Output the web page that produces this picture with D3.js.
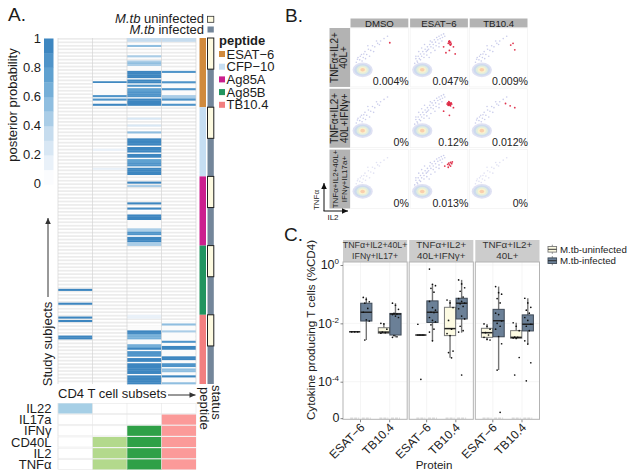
<!DOCTYPE html>
<html><head><meta charset="utf-8">
<script src="https://cdn.jsdelivr.net/npm/d3@7"></script>
<style>html,body{margin:0;padding:0;background:#fff}svg{display:block}text{font-family:"Liberation Sans",Arial,sans-serif;fill:#1c1c1c}</style>
</head><body><svg id="c" width="632" height="476"><defs><filter id="soft" x="-20%" y="-20%" width="140%" height="140%"><feGaussianBlur stdDeviation="0.6"/></filter></defs></svg>
<script>
// ---------- Panel A data ----------
const subsets=["s1","s2","s3","s4"];
const subjectCount=100;
const peptides=["ESAT−6","CFP−10","Ag85A","Ag85B","TB10.4"];
const peptideColors=["#d08a3c","#c6def2","#cb1f8e","#21945f","#f27f80"];
const statusNames=["M.tb uninfected","M.tb infected"];
const statusColors=["#fdfae0","#73869a"];
const uninfectedPerPeptide=9, subjectsPerPeptide=20;
const probLevels=["#fbfcfe","#e9f1f9","#d8e7f4","#c6dcee","#aacde7","#8fbee0","#75afd8","#5fa1d0","#4f94c9","#3d86c0"];
const probTicks=[0,0.2,0.4,0.6,0.8,1];
// half-rows of the heatmap that carry a probability, and its value
const s1Rows=[145,153,161,163,172,173];
const s1Probs=[.9,.9,.9,.9,.95,.95];
const s2Rows=[25,26,27,28,33,35,38,64,75];
const s2Probs=[.9,.08,.08,.08,.85,.85,.9,.12,.12];
const s3Rows=[0,1,4,10,13,14,15,19,20,21,22,24,25,27,29,30,31,32,33,35,36,37,38,46,50,54,58,59,60,61,63,64,65,67,68,70,71,72,73,75,76,77,78,83,85,95,98,102,103,104,110,111,112,113,114,115,116,117,118,119,160,161,169,170,171,172,173,177,178,179,181,182,183,185,186,188,189,190,191,192,193,195,196,197,198,199];
const s3Probs=[.3,.3,.5,.45,.45,.5,.45,.95,.95,.95,.95,.9,.9,.8,.75,.75,.8,.8,.8,.95,.95,.95,.95,.25,.2,.5,.95,.95,.95,.95,.9,.9,.9,.95,.95,.7,.7,.85,.85,.95,.95,.95,.95,.9,.45,.9,.9,.9,.9,.9,.45,.45,.85,.85,.15,.9,.9,.9,.45,.45,.1,.1,.9,.9,.65,.65,.65,.6,.6,.9,.85,.85,.85,.95,.95,.95,.95,.95,.95,.95,.95,.95,.95,.95,.95,.95];
const s4Rows=[0,1,19,25,29,33,34,35,38,165,169,175,178,179,184,185,188,189,191,192,195,199];
const s4Probs=[.3,.3,.85,.85,.85,.4,.4,.85,.85,.5,.45,.8,.95,.95,.9,.9,.85,.85,.5,.5,.9,.5];
// half-row ranges where a subset was scored as zero (white, not the grey stripe)
const s2ZeroRanges=[[24,40]];
const s3ZeroRanges=[[16,40],[56,80],[100,120],[166,200]];
const s4ZeroRanges=[[18,40],[164,200]];
const markers=["IL22","IL17a","IFNγ","CD40L","IL2","TNFα"];
const subsetColors=["#a6cfe6","#b3d98c","#2fa047","#fb9a99"];
const markerS1=[1,0,0,0,0,0], markerS2=[0,0,0,1,1,1], markerS3=[0,0,1,1,1,1], markerS4=[0,1,1,1,1,1];

// ---------- Panel B data ----------
const stims=["DMSO","ESAT−6","TB10.4"];
const gates=[["TNFα+IL2+","40L+"],["TNFα+IL2+","40L+IFNγ+"],["TNFα+IL2+40L+","IFNγ+IL17a+"]];
const gateFont=[10,10,8];
const percents=[["0.004%","0.047%","0.009%"],["0%","0.12%","0.012%"],["0%","0.013%","0%"]];
const ringRx=[.175,.145,.105,.07,.04];
const ringRy=[.125,.1,.075,.05,.03];
const ringColors=["#dfe1f3","#cddbee","#e2eede","#fbf2cf","#f9cfae"];
const sparseCloudX=[.1,.13,.16,.19,.22,.25,.28,.31,.35,.38,.42,.47,.52,.58,.64,.2,.26,.33,.4,.12,.17,.23,.3,.45,.5];
const sparseCloudY=[.42,.5,.46,.55,.5,.6,.55,.64,.62,.7,.68,.74,.78,.82,.86,.44,.48,.52,.6,.47,.52,.56,.7,.78,.72];
const denseCloudX=[.08,.1,.12,.14,.16,.18,.2,.22,.24,.26,.28,.3,.32,.34,.36,.38,.4,.42,.44,.46,.48,.5,.52,.54,.56,.58,.6,.1,.15,.2,.25,.3,.35,.4,.45,.5,.13,.18,.24,.29,.36,.43,.5,.55,.33];
const denseCloudY=[.4,.48,.44,.52,.48,.56,.52,.6,.56,.64,.6,.68,.64,.72,.68,.76,.72,.8,.76,.84,.8,.86,.82,.88,.84,.9,.86,.52,.6,.66,.72,.62,.78,.66,.7,.74,.42,.46,.5,.54,.58,.62,.68,.78,.5];
const redX=[[[.68],[.66,.67,.68,.69,.7,.71,.68,.7,.58,.75,.62,.78,.68],[.75,.78,.71]],
 [[],[.64,.65,.66,.67,.68,.69,.7,.71,.72,.67,.69,.66,.68,.7,.58,.68,.75],[.62,.7,.78]],
 [[],[.6,.65,.68,.7,.72,.73,.66,.7,.67],[]]];
const redY=[[[.75],[.74,.77,.75,.72,.76,.73,.78,.71,.68,.68,.58,.56,.62],[.74,.63,.71]],
 [[],[.74,.76,.72,.75,.77,.73,.75,.76,.74,.78,.72,.73,.74,.71,.62,.55,.68],[.75,.71,.68]],
 [[],[.72,.75,.74,.78,.76,.79,.7,.72,.77],[]]];

// ---------- Panel C data (log10 of %CD4; zeros drawn on the bottom row) ----------
const facetA=["TNFα+IL2+40L+","TNFα+IL2+","TNFα+IL2+"];
const facetB=["IFNγ+IL17+","40L+IFNγ+","40L+"];
const facetFont=[8.8,9.8,9.8];
const proteins=["ESAT−6","TB10.4"];
const cStatus=["M.tb-uninfected","M.tb-infected"];
const cFills=["#fdfbe3","#6b8097"];
const cStrokes=["#7a7a7a","#3f4a57"];
const boxFacet=[0,0,0,0,1,1,1,1,2,2,2,2];
const boxProtein=[0,0,1,1,0,0,1,1,0,0,1,1];
const boxStatus=[0,1,0,1,0,1,0,1,0,1,0,1];
const wLow=[-2.29,-2.57,-2.34,-2.48,-2.4,-2.61,-3.18,-2.32,-2.57,-3.6,-2.53,-2.71];
const q1=[-2.29,-1.92,-2.34,-2.4,-2.4,-1.97,-2.42,-1.85,-2.48,-2.46,-2.51,-2.26];
const med=[-2.29,-1.62,-2.3,-1.68,-2.4,-1.62,-2.18,-1.31,-2.32,-1.91,-2.48,-2.03];
const q3=[-2.29,-1.31,-2.15,-1.66,-2.4,-1.23,-1.45,-1.14,-2.17,-1.52,-2.25,-1.71];
const wHigh=[-2.29,-1.11,-2,-1.31,-2.4,-.66,-1.2,-.51,-2.02,-.74,-1.98,-1.14];
const boxPoints=[
 [-2.29,-2.29,-2.29],
 [-1.11,-1.18,-1.26,-1.31,-1.49,-1.62,-1.88,-1.92,-2.57],
 [-2,-2.02,-2.2,-2.3,-2.32,-2.34],
 [-1.31,-1.38,-1.52,-1.66,-1.68,-1.7,-1.75,-1.8,-2.42,-2.46,-2.48],
 [-2.03,-2.4,-2.4,-2.4,-2.4,-2.4,-3.92],
 [-.14,-.66,-.71,-.8,-.93,-1.25,-1.46,-1.55,-1.62,-1.63,-1.8,-1.9,-1.95,-2.05,-2.2,-2.3,-2.6],
 [-1.2,-1.3,-1.46,-1.9,-2.2,-2.35,-2.42,-2.95,-3,-3.18],
 [-.51,-.65,-.78,-.9,-1.1,-1.15,-1.25,-1.31,-1.33,-1.42,-1.5,-1.75,-1.85,-2.1,-2.25,-2.3,-3.77],
 [-2.02,-2.1,-2.2,-2.32,-2.4,-2.48,-2.55,-2.57],
 [-.74,-.95,-1,-1.15,-1.3,-1.65,-1.7,-1.92,-2,-2.1,-2.2,-2.45,-2.7,-3.6,-5.05],
 [-1.98,-2.1,-2.25,-2.47,-2.48,-2.5,-2.52,-3.17,-3.77],
 [-1.14,-1.3,-1.45,-1.55,-1.65,-1.8,-1.9,-2.03,-2.1,-2.25,-2.6,-2.71,-3.35,-3.97]];
const zeroLevel=-5.25;
const yTicksLog=[0,-2,-4];

// ================= drawing =================
const svg=d3.select("#c");
function txt(g,x,y,s,size,anchor,rot,extra){
  const t=g.append("text").attr("x",x).attr("y",y).attr("font-size",size).attr("text-anchor",anchor||"start").text(s);
  if(rot!==undefined&&rot!==""&&rot!==0)t.attr("transform",`rotate(${rot} ${x} ${y})`);
  if(extra)t.style("fill",extra);
  return t;
}
function arrow(g,x1,y1,x2,y2,col){
  g.append("line").attr("x1",x1).attr("y1",y1).attr("x2",x2).attr("y2",y2).attr("stroke",col).attr("stroke-width",1);
  const a=Math.atan2(y2-y1,x2-x1),L=6,W=2.8;
  const px=x2-L*Math.cos(a),py=y2-L*Math.sin(a);
  g.append("path").attr("fill",col).attr("d",`M${x2},${y2}L${px-W*Math.sin(a)},${py+W*Math.cos(a)}L${px+W*Math.sin(a)},${py-W*Math.cos(a)}Z`);
}
// ---- Panel A ----
const A=svg.append("g");
txt(A,8,21,"A.",19);
const heatX=d3.scaleBand().domain(subsets).range([58,196]);
const halfY=d3.scaleBand().domain(d3.range(subjectCount*2)).range([38,384]);
const subjY=d3.scaleBand().domain(d3.range(subjectCount)).range([38,384]);
const probColor=d3.scaleQuantize().domain([0,1]).range(probLevels);
A.selectAll("rect.stripe").data(d3.range(subjectCount)).join("rect")
 .attr("x",58).attr("width",138).attr("y",d=>halfY(d*2)).attr("height",halfY.bandwidth()).attr("fill","#ececec");
const zeroSets=[[],s2ZeroRanges,s3ZeroRanges,s4ZeroRanges];
subsets.forEach((s,i)=>zeroSets[i].forEach(r=>{
 A.append("rect").attr("x",heatX(s)+.5).attr("width",heatX.bandwidth()-1).attr("y",halfY(r[0]))
  .attr("height",halfY.step()*(r[1]-r[0])).attr("fill","#fbfbfb");
}));
[[s1Rows,s1Probs],[s2Rows,s2Probs],[s3Rows,s3Probs],[s4Rows,s4Probs]].forEach((pair,i)=>{
 A.selectAll(null).data(pair[0]).join("rect").attr("x",heatX(subsets[i])).attr("width",heatX.bandwidth())
  .attr("y",d=>halfY(d)).attr("height",halfY.bandwidth()+.35).attr("fill",(d,j)=>probColor(pair[1][j]));
});
subsets.concat(["end"]).forEach((s,i)=>{
 const x=i<4?heatX(s):196;
 A.append("line").attr("x1",x).attr("x2",x).attr("y1",38).attr("y2",384).attr("stroke","#d6d6d6").attr("stroke-width",.7);
});
// side bars
A.selectAll(null).data(peptides).join("rect").attr("x",199.5).attr("width",6.5)
 .attr("y",(d,i)=>subjY(i*subjectsPerPeptide)).attr("height",subjY.step()*subjectsPerPeptide).attr("fill",(d,i)=>peptideColors[i]);
A.append("rect").attr("x",207.5).attr("width",6.3).attr("y",38).attr("height",346).attr("fill",statusColors[1]);
A.selectAll(null).data(peptides).join("rect").attr("x",207.5).attr("width",6.3)
 .attr("y",(d,i)=>subjY(i*subjectsPerPeptide)).attr("height",subjY.step()*uninfectedPerPeptide)
 .attr("fill",statusColors[0]).attr("stroke","#222").attr("stroke-width",1);
// status legend
[0,1].forEach(i=>{
 const y=i?33.5:23.3;
 const t=A.append("text").attr("x",204).attr("y",y).attr("font-size",13).attr("text-anchor","end");
 t.append("tspan").attr("font-style","italic").text("M.tb");
 t.append("tspan").text(i?" infected":" uninfected");
 A.append("rect").attr("x",207.5).attr("y",y-7).attr("width",6.3).attr("height",6).attr("fill",statusColors[i])
  .attr("stroke",i?"none":"#333").attr("stroke-width",.8);
});
// peptide legend
txt(A,219,44.5,"peptide",13).attr("font-weight","bold");
peptides.forEach((p,i)=>{
 const yc=54+i*12.7;
 A.append("rect").attr("x",219).attr("y",yc-3).attr("width",6).attr("height",6).attr("fill",peptideColors[i]);
 txt(A,226.5,yc+4.6,p,13);
});
// probability legend
const probBand=d3.scaleBand().domain(d3.range(10)).range([184.5,38.5]);
A.selectAll(null).data(probLevels).join("rect").attr("x",44).attr("width",9.5)
 .attr("y",(d,i)=>probBand(i)).attr("height",probBand.bandwidth()+.2).attr("fill",d=>d);
const probY=d3.scaleLinear().domain([0,1]).range([183,38]);
probTicks.forEach(v=>txt(A,41,probY(v)+4.6,String(v),13,"end"));
txt(A,17,105,"posterior probability",13,"middle",-90);
// annotations
txt(A,52,344,"Study subjects",13,"middle",-90);
arrow(A,48,297,48,218,"#333");
txt(A,58,398,"CD4 T cell subsets",13);
arrow(A,168,395,195.5,395,"#333");
txt(A,200,387,"peptide",13,"start",90);
txt(A,212,385,"status",13,"start",90);
// marker grid
const markY=d3.scaleBand().domain(markers).range([402.8,470]).paddingInner(.1).paddingOuter(.05);
const markerCols=[markerS1,markerS2,markerS3,markerS4];
markers.forEach((m,r)=>{
 txt(A,51.5,markY(m)+markY.bandwidth()/2+4.6,m,13,"end");
 A.append("rect").attr("x",58).attr("width",138).attr("y",markY(m)).attr("height",markY.bandwidth()).attr("fill","#fff").attr("stroke","#e6e6e6").attr("stroke-width",.6);
 subsets.forEach((s,c)=>{
  if(markerCols[c][r])A.append("rect").attr("x",heatX(s)).attr("width",heatX.bandwidth()).attr("y",markY(m)).attr("height",markY.bandwidth()).attr("fill",subsetColors[c]);
 });
});
subsets.forEach(s=>A.append("line").attr("x1",heatX(s)).attr("x2",heatX(s)).attr("y1",403).attr("y2",469).attr("stroke","#e6e6e6").attr("stroke-width",.6));

// ---- Panel B ----
const B=svg.append("g");
txt(B,285,22,"B.",19);
const colX=d3.scaleBand().domain(stims).range([350.5,527.5]).paddingInner(.03);
const rowY=d3.scaleBand().domain(d3.range(3)).range([28,208.5]).paddingInner(.03);
stims.forEach(s=>{
 B.append("rect").attr("x",colX(s)).attr("y",18.5).attr("width",colX.bandwidth()).attr("height",9).attr("fill","#b3b3b3");
 txt(B,colX(s)+colX.bandwidth()/2,26.6,s,9.6,"middle");
});
gates.forEach((g,r)=>{
 const cy=rowY(r)+rowY.bandwidth()/2;
 B.append("rect").attr("x",329.5).attr("y",rowY(r)).attr("width",20.5).attr("height",rowY.bandwidth()).attr("fill","#b3b3b3");
 txt(B,338,cy,g[0],gateFont[r],"middle",-90);
 txt(B,347.5,cy,g[1],gateFont[r],"middle",-90);
 stims.forEach((s,c)=>{
  const fx=d3.scaleLinear().domain([0,1]).range([colX(s),colX(s)+colX.bandwidth()]);
  const fy=d3.scaleLinear().domain([0,1]).range([rowY(r)+rowY.bandwidth(),rowY(r)]);
  B.append("rect").attr("x",colX(s)).attr("y",rowY(r)).attr("width",colX.bandwidth()).attr("height",rowY.bandwidth()).attr("fill","#fff").attr("stroke","#eeeeee").attr("stroke-width",.6);
  const soft=B.append("g").attr("filter","url(#soft)");
  const dense=c===1, cx=dense?denseCloudX:sparseCloudX, cy2=dense?denseCloudY:sparseCloudY;
  soft.selectAll(null).data(cx).join("circle").attr("cx",d=>fx(d)).attr("cy",(d,i)=>fy(cy2[i])).attr("r",.8)
    .attr("fill","#b4b7e2").attr("opacity",r===2&&!dense?.4:.7);
  ringRx.forEach((rx,k)=>{
   soft.append("ellipse").attr("cx",fx(.21)).attr("cy",fy(.29)).attr("rx",fx(rx)-fx(0)).attr("ry",fy(0)-fy(ringRy[k])).attr("fill",ringColors[k]);
  });
  soft.selectAll(null).data(redX[r][c]).join("circle").attr("cx",d=>fx(d)).attr("cy",(d,i)=>fy(redY[r][c][i])).attr("r",.9).attr("fill","#dd1f3c").attr("opacity",.9);
  txt(B,colX(s)+colX.bandwidth()+.5,rowY(r)+rowY.bandwidth()-1.8,percents[r][c],10.6,"end","","#222");
 });
});
txt(B,319,200,"TNFα",8,"middle",-90);
txt(B,333,220,"IL2",8,"middle");
arrow(B,324,211,324,183,"#111");
arrow(B,323.5,211,348,211,"#111");

// ---- Panel C ----
const C=svg.append("g");
txt(C,284,241,"C.",19);
const facetX=d3.scaleBand().domain(d3.range(3)).range([343,539.5]).paddingInner(.03);
const cY=d3.scaleLinear().domain([0,-4]).range([265,381.7]);
const plotTop=262,plotBottom=419.3;
d3.range(3).forEach(f=>{
 const x0=facetX(f),w=facetX.bandwidth();
 const xp=d3.scalePoint().domain(proteins).range([x0,x0+w]).padding(.6);
 C.append("rect").attr("x",x0).attr("y",240).attr("width",w).attr("height",22).attr("fill","#cccccc");
 txt(C,x0+w/2,248.3,facetA[f],facetFont[f],"middle","","#333");
 txt(C,x0+w/2,259.3,facetB[f],facetFont[f],"middle","","#333");
 C.append("rect").attr("x",x0).attr("y",plotTop).attr("width",w).attr("height",plotBottom-plotTop).attr("fill","#fff");
 yTicksLog.forEach(t=>C.append("line").attr("x1",x0).attr("x2",x0+w).attr("y1",cY(t)).attr("y2",cY(t)).attr("stroke","#efefef").attr("stroke-width",.6));
 proteins.forEach(p=>{
  C.append("line").attr("x1",xp(p)).attr("x2",xp(p)).attr("y1",plotTop).attr("y2",plotBottom).attr("stroke","#efefef").attr("stroke-width",.6);
  C.append("line").attr("x1",xp(p)).attr("x2",xp(p)).attr("y1",plotBottom).attr("y2",plotBottom+3).attr("stroke","#555").attr("stroke-width",.7);
  txt(C,xp(p)+5,plotBottom+9,p,12,"end",-45,"#222");
 });
 boxFacet.forEach((bf,b)=>{
  if(bf!==f)return;
  const cx=xp(proteins[boxProtein[b]])+(boxStatus[b]?5.8:-5.8), s=boxStatus[b];
  C.append("line").attr("x1",cx).attr("x2",cx).attr("y1",cY(wHigh[b])).attr("y2",cY(wLow[b])).attr("stroke","#757575").attr("stroke-width",1.4);
  const h=Math.max(cY(q1[b])-cY(q3[b]),0);
  if(h>0)C.append("rect").attr("x",cx-5.6).attr("width",11.2).attr("y",cY(q3[b])).attr("height",h).attr("fill",cFills[s]).attr("stroke",cStrokes[s]).attr("stroke-width",1);
  C.append("line").attr("x1",cx-5.6).attr("x2",cx+5.6).attr("y1",cY(med[b])).attr("y2",cY(med[b])).attr("stroke","#222").attr("stroke-width",1.5);
  C.selectAll(null).data(boxPoints[b]).join("circle").attr("cx",(d,i)=>cx+((i*7)%5-2)*1.5).attr("cy",d=>cY(d)).attr("r",.85).attr("fill","#111");
  C.append("line").attr("x1",cx-4.5).attr("x2",cx+4.5).attr("y1",cY(zeroLevel)).attr("y2",cY(zeroLevel)).attr("stroke","#c4c4c4").attr("stroke-width",.9).attr("stroke-dasharray","3 1");
 });
 C.append("rect").attr("x",x0).attr("y",plotTop).attr("width",w).attr("height",plotBottom-plotTop).attr("fill","none").attr("stroke","#b3b3b3").attr("stroke-width",1);
});
const yAxis=C.append("g").attr("transform","translate(343,0)").call(d3.axisLeft(cY).tickValues(yTicksLog.concat([zeroLevel])).tickSize(2.5).tickFormat(""));
yAxis.select(".domain").remove();
yAxis.selectAll("line").attr("stroke","#555").attr("stroke-width",.7);
yTicksLog.forEach(t=>{
 const lbl=C.append("text").attr("x",339).attr("y",cY(t)+4.3).attr("font-size",12.5).attr("text-anchor","end").style("fill","#222");
 lbl.append("tspan").text("10");
 lbl.append("tspan").attr("dy",-5).attr("font-size",8).text(t===0?"0":String(t));
});
txt(C,339.5,cY(zeroLevel)+4.3,"0",12.5,"end","","#222");
txt(C,315,330,"Cytokine producing T cells (%CD4)",11.6,"middle",-90,"#222");
txt(C,434,469,"Protein",11.6,"middle","","#222");
cStatus.forEach((s,i)=>{
 const y=i?260.7:249.3;
 C.append("line").attr("x1",552.3).attr("x2",552.3).attr("y1",y-4.6).attr("y2",y+4.6).attr("stroke","#777").attr("stroke-width",.8);
 C.append("rect").attr("x",548).attr("y",y-2.8).attr("width",8.6).attr("height",5.6).attr("fill",cFills[i]).attr("stroke",cStrokes[i]).attr("stroke-width",.9);
 C.append("line").attr("x1",548).attr("x2",556.6).attr("y1",y).attr("y2",y).attr("stroke","#222").attr("stroke-width",.9);
 txt(C,560,y+3.4,s,9.7,"start","","#222");
});
</script></body></html>
